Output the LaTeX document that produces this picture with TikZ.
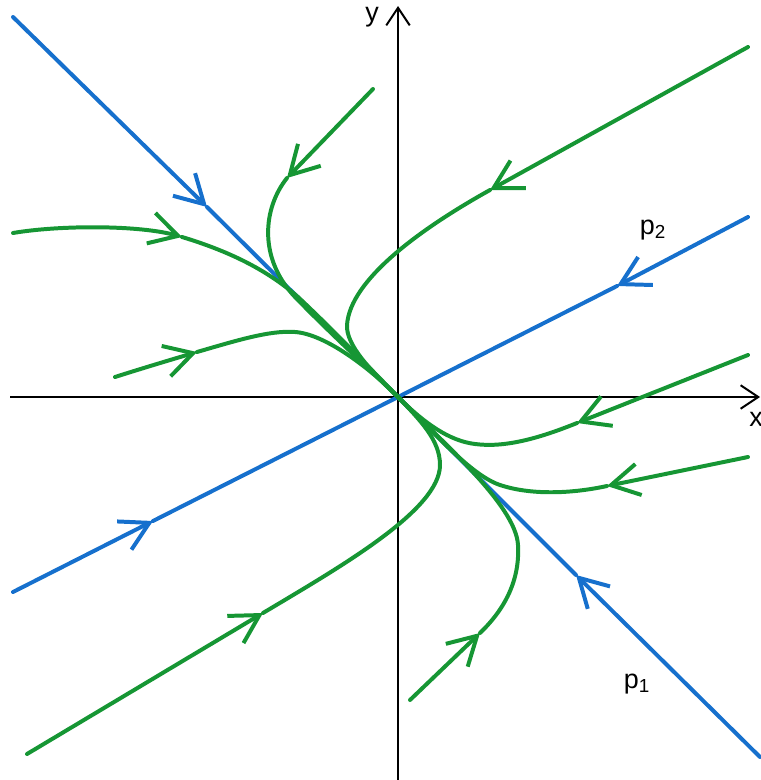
\documentclass[tikz,border=0pt]{standalone}
\usepackage{fontspec}
\setmainfont{Liberation Sans}
\usetikzlibrary{arrows.meta}
\definecolor{pblue}{RGB}{22,112,205}
\definecolor{pgreen}{RGB}{22,150,52}
\tikzset{
  axis/.style={black, line width=1.7pt, -{Straight Barb[length=15pt,width=20pt]}},
  eig/.style={pblue, line width=3.4pt, line cap=round},
  traj/.style={pgreen, line width=3.4pt, line cap=round},
  tipped/.style={-{Straight Barb[length=24pt,width=27pt]}},
  lbl/.style={font=\fontsize{23}{25}\selectfont, inner sep=0pt}
}
\begin{document}
\begin{tikzpicture}[x=0.03cm,y=-0.03cm]
\useasboundingbox (0,0) rectangle (761,780);
\coordinate (O) at (398,397);
% axes
\coordinate (xl) at (10,397);
\coordinate (xr) at (760,397);
\coordinate (yb) at (398,780);
\coordinate (yt) at (398,6);
\draw[axis] (xl) -- (xr);
\draw[axis] (yb) -- (yt);
\node[lbl] (ylab) at (372,17) {y};
\node[lbl] (xlab) at (756,419) {x};
\node[lbl] (p2lab) at (653,230) {p\textsubscript{2}};
\node[lbl] (p1lab) at (637,684) {p\textsubscript{1}};
% eigen lines
\coordinate (p1a) at (13,17);
\coordinate (p1m) at (207,207);
\coordinate (p1b) at (760,757);
\coordinate (p1n) at (576,575);
\coordinate (p2a) at (13,592);
\coordinate (p2m) at (153,521);
\coordinate (p2b) at (748,217);
\coordinate (p2n) at (617,286);
\draw[eig,tipped] (p1a) -- (p1m);
\draw[eig] (p1m) -- (O);
\draw[eig,tipped] (p1b) -- (p1n);
\draw[eig] (p1n) -- (O);
\draw[eig,tipped] (p2a) -- (p2m);
\draw[eig] (p2m) -- (O);
\draw[eig,tipped] (p2b) -- (p2n);
\draw[eig] (p2n) -- (O);
% trajectories
\coordinate (a0) at (373,89);  \coordinate (a1) at (287,178);
\coordinate (b0) at (748,47);  \coordinate (b1) at (490,190);
\coordinate (c0) at (13,233);  \coordinate (c1) at (182,237);
\coordinate (d0) at (115,377); \coordinate (d1) at (197,352);
\coordinate (e0) at (748,355); \coordinate (e1) at (577,423);
\coordinate (f0) at (748,457); \coordinate (f1) at (607,486);
\coordinate (g0) at (410,700); \coordinate (g1) at (480,633);
\coordinate (h0) at (27,754);  \coordinate (h1) at (263,613);
% A
\draw[traj,tipped] (a0) -- (a1);
\draw[traj] (a1) .. controls (263,208) and (258,258) .. (295,297) .. controls (330,333) and (365,365) .. (O);
% B
\draw[traj,tipped] (b0) -- (b1);
\draw[traj] (b1) .. controls (420,229) and (350,280) .. (347,325) .. controls (346,345) and (370,370) .. (O);
% C
\draw[traj,tipped] (c0) .. controls (60,225) and (140,225) .. (c1);
\draw[traj] (c1) .. controls (225,250) and (265,268) .. (298,297) .. controls (330,327) and (365,363) .. (O);
% D
\draw[traj,tipped] (d0) .. controls (140,369) and (170,360) .. (d1);
\draw[traj] (d1) .. controls (235,341) and (270,330) .. (295,332) .. controls (325,334) and (370,368) .. (O);
% E
\draw[traj,tipped] (e0) -- (e1);
\draw[traj] (e1) .. controls (540,438) and (505,448) .. (475,444) .. controls (450,441) and (425,424) .. (O);
% F
\draw[traj,tipped] (f0) -- (f1);
\draw[traj] (f1) .. controls (570,494) and (530,495) .. (500,485) .. controls (470,475) and (430,428) .. (O);
% G
\draw[traj,tipped] (g0) -- (g1);
\draw[traj] (g1) .. controls (505,609) and (520,580) .. (518,545) .. controls (516,505) and (440,440) .. (O);
% H
\draw[traj,tipped] (h0) -- (h1);
\draw[traj] (h1) .. controls (340,567) and (440,510) .. (440,465) .. controls (440,440) and (420,420) .. (O);
\end{tikzpicture}
\end{document}
